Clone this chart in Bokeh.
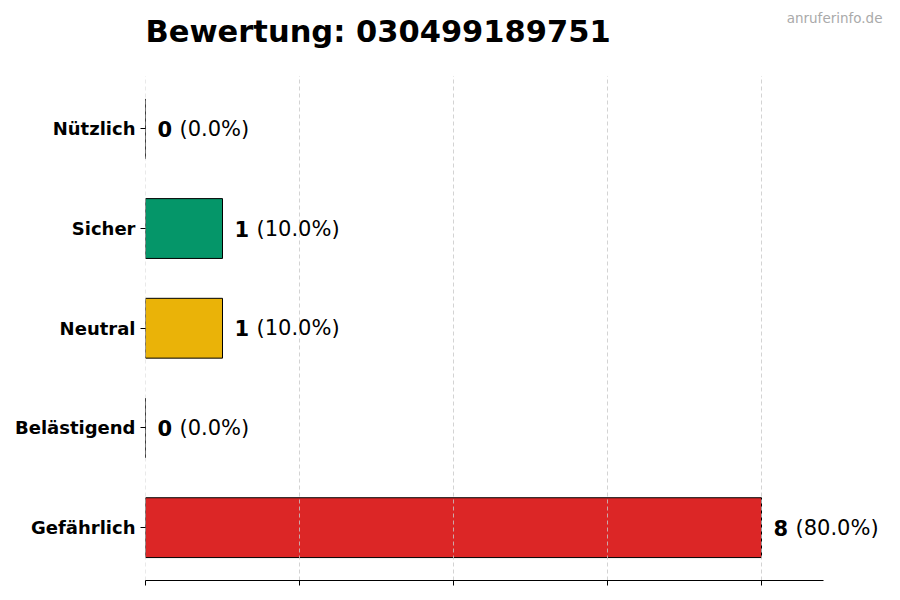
from bokeh.plotting import figure
from bokeh.models import FixedTicker, Range1d, Label, ColumnDataSource, CustomJSTickFormatter
from bokeh.core.properties import value
from bokeh.embed import file_html
from bokeh.resources import INLINE

# data, bottom to top
categories = ["Gefährlich", "Belästigend", "Neutral", "Sicher", "Nützlich"]
counts = [8, 0, 1, 1, 0]
colors = ["#DC2626", "#9CA3AF", "#EAB308", "#059669", "#2563EB"]
xticks = [0, 2, 4, 6, 8]
phone = "030499189751"

total = sum(counts)
pos = list(range(len(categories)))
src = ColumnDataSource(dict(
    y=pos,
    right=counts,
    color=colors,
    num=[str(c) for c in counts],
    pct=[f"({c / total * 100:.1f}%)" for c in counts],
))

FONT = "DejaVu Sans"
X_MAX = 8.8          # end of the drawn x axis
Y_LO, Y_HI = -0.53, 4.53

# the frame runs to the top and right edge of the canvas so that the
# value labels, title and watermark are not clipped
p = figure(width=900, height=600, output_backend="svg", toolbar_location=None,
           x_range=Range1d(0, 9.805), y_range=Range1d(Y_LO, 5.287),
           min_border_left=145, min_border_right=0, min_border_top=0,
           min_border_bottom=20)
p.outline_line_color = None

p.hbar(y="y", left=0, right="right", height=0.6, fill_color="color",
       line_color="black", line_width=1, source=src)

# dashed vertical grid, drawn over the bars
p.segment(x0=xticks, y0=Y_LO, x1=xticks, y1=Y_HI, line_color="#c8c8c8",
          line_alpha=0.8, line_dash="4 3", line_width=1)

p.text(x="right", y="y", text="num", source=src, x_offset=12,
       text_font=value(FONT), text_font_style="bold", text_font_size="21px",
       text_baseline="middle", text_color="black")
p.text(x="right", y="y", text="pct", source=src, x_offset=34,
       text_font=value(FONT), text_font_size="21px",
       text_baseline="middle", text_color="black")

# axes
p.xaxis.ticker = FixedTicker(ticks=xticks)
p.xaxis.bounds = (0, X_MAX)
p.xaxis.formatter = CustomJSTickFormatter(code="return ''")
p.xaxis.major_label_standoff = 0
p.xaxis.minor_tick_line_color = None
p.xaxis.major_tick_in = 0
p.xaxis.major_tick_out = 5
p.xaxis.axis_line_color = "black"
p.xaxis.axis_line_width = 1.2

p.yaxis.ticker = FixedTicker(ticks=pos)
p.yaxis.major_label_overrides = {i: c for i, c in enumerate(categories)}
p.yaxis.axis_line_color = None
p.yaxis.minor_tick_line_color = None
p.yaxis.major_tick_in = 0
p.yaxis.major_tick_out = 5
p.yaxis.major_label_standoff = 5
p.yaxis.major_label_text_font = FONT
p.yaxis.major_label_text_font_style = "bold"
p.yaxis.major_label_text_font_size = "18px"
p.yaxis.major_label_text_color = "black"

p.xgrid.grid_line_color = None
p.ygrid.grid_line_color = None

p.add_layout(Label(x=0, y=4.976, text=f"Bewertung: {phone}", text_font=FONT,
                   text_font_style="bold", text_font_size="30.5px",
                   text_color="black", text_baseline="alphabetic"))
p.add_layout(Label(x=9.571, y=5.107, text="anruferinfo.de", text_font=FONT,
                   text_font_size="13.5px", text_color="#aaaaaa",
                   text_align="right", text_baseline="alphabetic"))

open("out.html", "w").write(file_html(p, INLINE))
